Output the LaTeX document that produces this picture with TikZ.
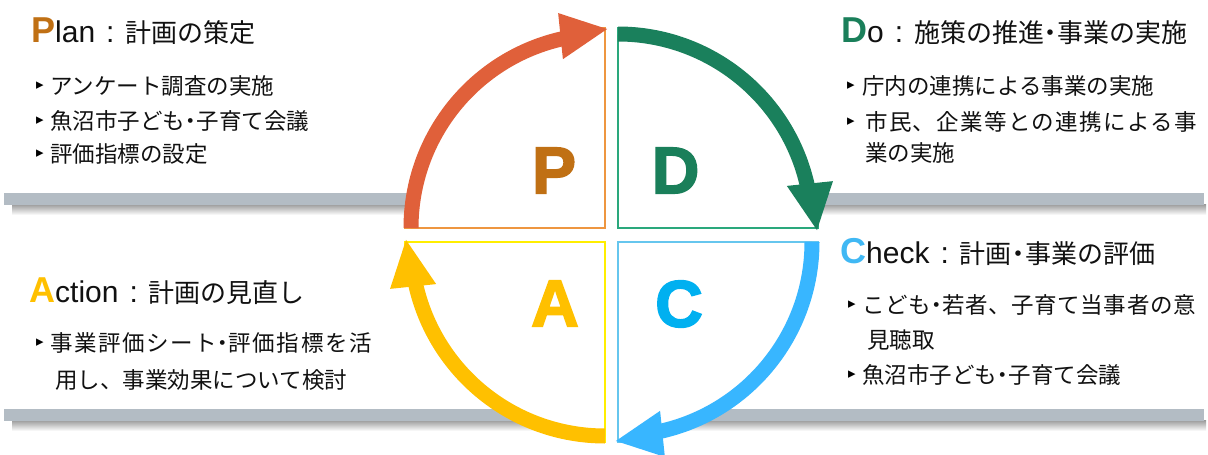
\documentclass[tikz,border=0pt]{standalone}
\usepackage{fontspec}
\newfontfamily\cjk{Noto Sans CJK JP}
\newfontfamily\lat{Liberation Sans}
\newfontfamily\heavy[FakeBold=2.5]{Liberation Sans Bold}
\newfontfamily\sym{DejaVu Sans}
\newcommand{\nd}{\hspace{-0.24em}・\hspace{-0.24em}}
\definecolor{parc}{HTML}{E0603A}
\definecolor{darc}{HTML}{1A805C}
\definecolor{carc}{HTML}{38B6FF}
\definecolor{aarc}{HTML}{FFC000}
\definecolor{pline}{HTML}{EE9640}
\definecolor{dline}{HTML}{2AA87C}
\definecolor{cline}{HTML}{66C6EE}
\definecolor{aline}{HTML}{FFEE00}
\definecolor{pletter}{HTML}{C07014}
\definecolor{dletter}{HTML}{1A7F5A}
\definecolor{aletter}{HTML}{FFC000}
\definecolor{cletter}{HTML}{00B0F0}
\definecolor{ctitle}{HTML}{40B8F4}
\definecolor{barcol}{HTML}{B3BCC4}
\definecolor{txt}{HTML}{111111}
\begin{document}
\begin{tikzpicture}[x=1pt,y=1pt,
  body/.style={anchor=west, inner sep=0pt, text=txt, font=\cjk\fontsize{22.5}{26}\selectfont},
  bul/.style={anchor=center, inner sep=0pt, text=black, font=\sym\fontsize{15}{17}\selectfont},
  title/.style={anchor=base west, inner sep=0pt, text=txt},
  big/.style={inner sep=0pt, font=\heavy\fontsize{66}{70}\selectfont},
  barshadow/.style={top color=black!40, bottom color=white},
  bar/.style={fill=barcol},
  quad/.style={fill=white, line width=1.8pt},
  cyc/.style={line width=15pt}]
\useasboundingbox (0,0) rectangle (1208,-455);
\fill[white] (0,0) rectangle (1208,-455);
% bars
\shade[barshadow] (12,-204) rectangle (1206,-215);
\fill[bar] (4,-193) rectangle (1204,-205);
\shade[barshadow] (12,-420) rectangle (1206,-431);
\fill[bar] (4,-409) rectangle (1204,-421);
% white disc
\fill[white] (611.5,-235) circle (206);
% quadrants
\draw[quad, draw=pline] (605,-228) -- (405,-228) arc[start angle=180,end angle=90,radius=200] -- cycle;
\draw[quad, draw=dline] (618,-228) -- (618,-28) arc[start angle=90,end angle=0,radius=200] -- cycle;
\draw[quad, draw=cline] (618,-242) -- (818,-242) arc[start angle=0,end angle=-90,radius=200] -- cycle;
\draw[quad, draw=aline] (605,-242) -- (605,-442) arc[start angle=270,end angle=180,radius=200] -- cycle;
% big letters
\node[big, text=pletter] (bigP) at (554,-170.5) {P};
\node[big, text=dletter] (bigD) at (675.5,-170.5) {D};
\node[big, text=aletter] (bigA) at (555,-303.5) {A};
\node[big, text=cletter] (bigC) at (679,-304) {C};
% cycle arrows
\foreach \cx/\cy/\rot/\col in {605/-228/0/parc, 618/-228/-90/darc, 618/-242/-180/carc, 605/-242/90/aarc} {
  \begin{scope}[shift={(\cx,\cy)}, rotate=\rot]
    \draw[cyc, draw=\col] (180:194) arc[start angle=180, end angle=102, radius=194];
    \fill[\col] (102.3:220) -- (89.4:199) -- (104:174) -- cycle;
  \end{scope}
}
% Plan
\node[title] (tP) at (31,-42) {\lat\fontsize{36}{40}\selectfont{\bfseries\color{pletter}P}\fontsize{30}{34}\selectfont lan\hspace{11pt}:\hspace{11pt}\cjk\fontsize{26}{30}\selectfont 計画の策定};
\node[bul] (bP1) at (40,-86) {▸};
\node[body] (lP1) at (50,-86) {アンケート調査の実施};
\node[bul] (bP2) at (40,-121) {▸};
\node[body] (lP2) at (50,-121) {魚沼市子ども\nd 子育て会議};
\node[bul] (bP3) at (40,-154) {▸};
\node[body] (lP3) at (50,-154) {評価指標の設定};
% Do
\node[title] (tD) at (841,-42) {\lat\fontsize{36}{40}\selectfont{\bfseries\color{dletter}D}\fontsize{30}{34}\selectfont o\hspace{11pt}:\hspace{11pt}\cjk\fontsize{26}{30}\selectfont 施策の推進\nd 事業の実施};
\node[bul] (bD1) at (851,-86) {▸};
\node[body] (lD1) at (862,-86) {庁内の連携による事業の実施};
\node[bul] (bD2) at (851,-122) {▸};
\node[body, font=\cjk\fontsize{22.5}{26}\selectfont\addfontfeatures{LetterSpace=6}] (lD2) at (865,-122) {市民、企業等との連携による事};
\node[body] (lD3) at (865,-153) {業の実施};
% Check
\node[title] (tC) at (840,-263) {\lat\fontsize{36}{40}\selectfont{\bfseries\color{ctitle}C}\fontsize{30}{34}\selectfont heck\hspace{11pt}:\hspace{11pt}\cjk\fontsize{26}{30}\selectfont 計画\nd 事業の評価};
\node[bul] (bC1) at (852,-305) {▸};
\node[body, font=\cjk\fontsize{22.5}{26}\selectfont\addfontfeatures{LetterSpace=2.5}] (lC1) at (862,-305) {こども\nd 若者、子育て当事者の意};
\node[body] (lC2) at (867,-340) {見聴取};
\node[bul] (bC3) at (852,-375) {▸};
\node[body] (lC3) at (862,-375) {魚沼市子ども\nd 子育て会議};
% Action
\node[title] (tA) at (29,-302) {\lat\fontsize{36}{40}\selectfont{\bfseries\color{aletter}A}\fontsize{30}{34}\selectfont ction\hspace{11pt}:\hspace{11pt}\cjk\fontsize{26}{30}\selectfont 計画の見直し};
\node[bul] (bA1) at (40,-343) {▸};
\node[body, font=\cjk\fontsize{22.5}{26}\selectfont\addfontfeatures{LetterSpace=7}] (lA1) at (50,-343) {事業評価シート\nd 評価指標を活};
\node[body] (lA2) at (55,-380) {用し、事業効果について検討};
\end{tikzpicture}
\end{document}
